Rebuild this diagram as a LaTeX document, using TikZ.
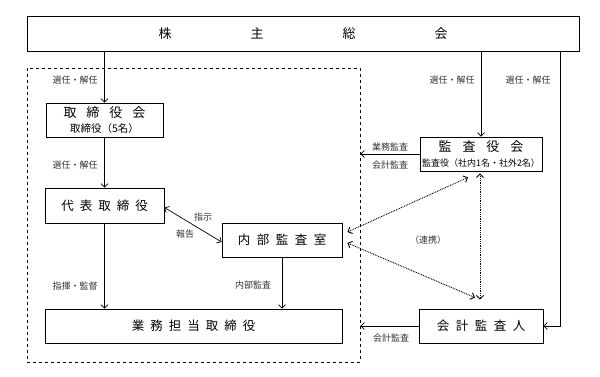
\documentclass[tikz,border=0pt]{standalone}
\usepackage{fontspec}
\setmainfont{Noto Sans CJK JP}
\usetikzlibrary{arrows.meta}
\begin{document}
\begin{tikzpicture}[x=1pt,y=-1pt,
  box/.style={draw,line width=0.8pt,inner sep=0pt,align=center},
  conn/.style={line width=0.7pt,-{Straight Barb[length=3.5pt,width=7pt]}},
  dotconn/.style={line width=0.9pt,dash pattern=on 0.9pt off 0.9pt,{Straight Barb[length=3.5pt,width=7pt]}-{Straight Barb[length=3.5pt,width=7pt]}},
  lbl/.style={font=\fontsize{9}{10}\selectfont,text=black!80,inner sep=0pt},
  big/.style={font=\fontsize{13}{14}\selectfont}]
\useasboundingbox (0,0) rectangle (600,377);
% group
\node[draw,line width=0.8pt,dashed,minimum width=333pt,minimum height=294pt,inner sep=0pt] (grp) at (193.5,215) {};
% boxes
\node[box,big,minimum width=552pt,minimum height=35pt] (top) at (303,33.5)
  {株\hspace{79pt}主\hspace{79pt}総\hspace{79pt}会};
\node[box,minimum width=117pt,minimum height=34pt] (tk) at (104.5,120)
  {{\fontsize{13}{13}\selectfont 取\hspace{10pt}締\hspace{10pt}役\hspace{10pt}会}\\[2.5pt]{\fontsize{10.5}{11}\selectfont 取締役（5名）}};
\node[box,minimum width=119pt,minimum height=35pt,font=\fontsize{12.5}{13}\selectfont] (dh) at (104.5,205.5)
  {代\hspace{6pt}表\hspace{6pt}取\hspace{6pt}締\hspace{6pt}役};
\node[box,minimum width=120pt,minimum height=34pt,font=\fontsize{12.5}{13}\selectfont] (nb) at (282,240)
  {内\hspace{6.5pt}部\hspace{6.5pt}監\hspace{6.5pt}査\hspace{6.5pt}室};
\node[box,minimum width=297pt,minimum height=34pt,font=\fontsize{12.5}{13}\selectfont] (gy) at (193.5,326)
  {業\hspace{6pt}務\hspace{6pt}担\hspace{6pt}当\hspace{6pt}取\hspace{6pt}締\hspace{6pt}役};
\node[box,minimum width=122pt,minimum height=34pt] (ks) at (481,154)
  {{\fontsize{13}{13}\selectfont 監\hspace{11pt}査\hspace{11pt}役\hspace{11pt}会}\\[2.5pt]{\fontsize{9}{10}\selectfont 監査役（社内1名・社外2名）}};
\node[box,minimum width=124pt,minimum height=34pt,font=\fontsize{12.5}{13}\selectfont] (kk) at (481,326)
  {会\hspace{6.5pt}計\hspace{6.5pt}監\hspace{6.5pt}査\hspace{6.5pt}人};
\coordinate (rline) at (560,0);
% connectors
\draw[conn] (tk.north |- top.south) -- (tk.north);
\draw[conn] (tk.south) -- (dh.north);
\draw[conn] (dh.south) -- (dh.south |- gy.north);
\draw[conn] (nb.south) -- (nb.south |- gy.north);
\draw[conn,{Straight Barb[length=3.5pt,width=7pt]}-{Straight Barb[length=3.5pt,width=7pt]}] ([yshift=-2pt]dh.east) -- ([yshift=-2pt]nb.west);
\draw[conn] (top.south -| ks.north) -- (ks.north);
\draw[conn] (top.south -| rline) |- (kk.east);
\draw[conn] (ks.west) -- (ks.west -| grp.east);
\draw[conn] (kk.west) -- (kk.west -| grp.east);
\draw[dotconn] ([xshift=5pt,yshift=8pt]nb.east) -- ([xshift=-13pt,yshift=-6pt]ks.south);
\draw[dotconn] ([xshift=5pt,yshift=-3pt]nb.east) -- ([xshift=-6pt,yshift=11pt]kk.north);
\draw[dotconn] ([xshift=-1pt,yshift=-2pt]ks.south) -- ([xshift=-1pt,yshift=9pt]kk.north);
% labels
\node[lbl] (l1) at (75,80) {選任・解任};
\node[lbl] (l2) at (75,165) {選任・解任};
\node[lbl] (l3) at (75,286) {指揮・監督};
\node[lbl] (l4) at (253,285) {内部監査};
\node[lbl] (l5) at (203,217) {指示};
\node[lbl] (l6) at (185,234) {報告};
\node[lbl] (l7) at (452,80) {選任・解任};
\node[lbl] (l8) at (528,80) {選任・解任};
\node[lbl] (l9) at (390,147) {業務監査};
\node[lbl] (l10) at (390,165) {会計監査};
\node[lbl] (l11) at (428,240) {（連携）};
\node[lbl] (l12) at (391,338) {会計監査};
\end{tikzpicture}
\end{document}
